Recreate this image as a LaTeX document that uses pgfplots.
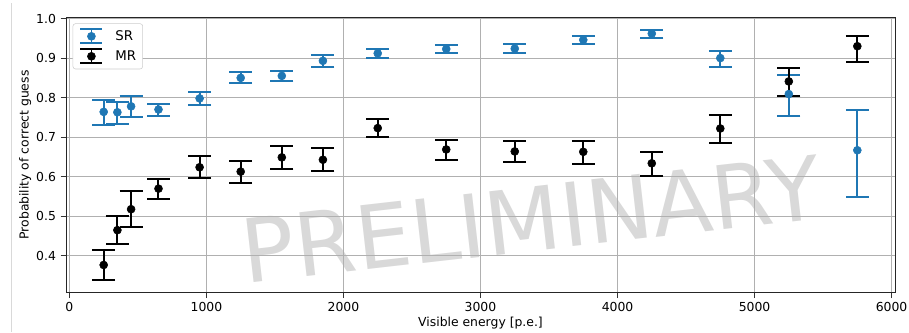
\documentclass[border=0pt]{standalone}
\usepackage{pgfplots}
\pgfplotsset{compat=1.18}
\usepackage{pgfplotstable}
\usepackage{fontspec}
\setmainfont{DejaVu Sans}
\definecolor{srblue}{HTML}{1F77B4}
\definecolor{gridgray}{HTML}{B0B0B0}
\definecolor{wm}{HTML}{D9D9D9}

\pgfplotstableread{
x y ep em
250 0.764 0.031 0.033
350 0.763 0.026 0.030
450 0.778 0.025 0.028
650 0.770 0.015 0.016
950 0.798 0.015 0.016
1250 0.850 0.014 0.013
1550 0.855 0.013 0.014
1850 0.893 0.014 0.015
2250 0.912 0.011 0.011
2750 0.923 0.011 0.011
3250 0.924 0.011 0.011
3750 0.946 0.011 0.011
4250 0.962 0.010 0.012
4750 0.900 0.018 0.023
5250 0.809 0.047 0.055
5750 0.667 0.101 0.117
}\srdata

\pgfplotstableread{
x y ep em
250 0.377 0.037 0.037
350 0.465 0.036 0.036
450 0.518 0.045 0.045
650 0.570 0.025 0.025
950 0.624 0.028 0.027
1250 0.613 0.028 0.028
1550 0.649 0.029 0.030
1850 0.643 0.029 0.028
2250 0.723 0.022 0.022
2750 0.669 0.023 0.026
3250 0.664 0.027 0.027
3750 0.663 0.028 0.030
4250 0.634 0.029 0.031
4750 0.722 0.034 0.036
5250 0.841 0.033 0.038
5750 0.930 0.027 0.040
}\mrdata

\begin{document}
\begin{tikzpicture}[x=0.75pt,y=0.75pt]
\path[use as bounding box] (0,0) rectangle (909,332);
\draw[gray!30, line width=0.75pt] (11,0) -- (11,329);
\node[text=wm, rotate=6.5, font=\fontsize{66}{66}\selectfont, inner sep=0pt] at (531,113) {PRELIMINARY};
\begin{axis}[
  at={(49.5pt,29.5pt)}, anchor=south west,
  scale only axis, width=621.75pt, height=206.5pt,
  xmin=-25, xmax=6025, ymin=0.307, ymax=1.003,
  xtick={0,1000,...,6000}, ytick={0.4,0.5,...,1.0},
  /pgf/number format/assume math mode=true,
  xticklabel style={/pgf/number format/1000 sep={}},
  yticklabel style={/pgf/number format/.cd, fixed, fixed zerofill, precision=1},
  tick label style={font=\fontsize{9.3}{11}\selectfont},
  label style={font=\fontsize{9.3}{11}\selectfont},
  xlabel={Visible energy [p.e.]}, ylabel={Probability of correct guess},
  xlabel style={yshift=3pt}, ylabel style={yshift=-3pt},
  tick align=outside, major tick length=4pt,
  tick style={black!80, line width=0.6pt},
  xtick pos=bottom, ytick pos=left,
  axis line style={black!85, line width=0.75pt},
  grid=major, grid style={gridgray, line width=0.75pt},
  legend style={draw=black!20, fill=white, rounded corners=2pt,
    font=\fontsize{10}{12}\selectfont, at={(0.008,0.978)}, anchor=north west,
    inner xsep=5pt, inner ysep=2pt, row sep=0pt,
    nodes={inner xsep=0pt, inner ysep=0pt, minimum height=15pt}},
  legend cell align=left,
]
\addplot[color=srblue, only marks, mark=*, mark size=3pt,
  legend image code/.code={
    \draw[srblue, line width=1.3pt] (8.25pt,-5.25pt) -- (8.25pt,5.25pt);
    \draw[srblue, line width=1.3pt] (0pt,-5.25pt) -- (16.5pt,-5.25pt);
    \draw[srblue, line width=1.3pt] (0pt,5.25pt) -- (16.5pt,5.25pt);
    \fill[srblue] (8.25pt,0pt) circle (3pt);
  },
  error bars/.cd, y dir=both, y explicit,
  error bar style={line width=1.5pt},
  error mark options={rotate=90, line width=1.5pt, mark size=8.6pt}]
  table[x=x, y=y, y error plus=ep, y error minus=em] {\srdata};
\addlegendentry{\hspace{9pt}SR}
\addplot[color=black, only marks, mark=*, mark size=3pt,
  legend image code/.code={
    \draw[black, line width=1.3pt] (8.25pt,-5.25pt) -- (8.25pt,5.25pt);
    \draw[black, line width=1.3pt] (0pt,-5.25pt) -- (16.5pt,-5.25pt);
    \draw[black, line width=1.3pt] (0pt,5.25pt) -- (16.5pt,5.25pt);
    \fill[black] (8.25pt,0pt) circle (3pt);
  },
  error bars/.cd, y dir=both, y explicit,
  error bar style={line width=1.5pt},
  error mark options={rotate=90, line width=1.5pt, mark size=8.6pt}]
  table[x=x, y=y, y error plus=ep, y error minus=em] {\mrdata};
\addlegendentry{\hspace{9pt}MR}
\end{axis}
\end{tikzpicture}
\end{document}
